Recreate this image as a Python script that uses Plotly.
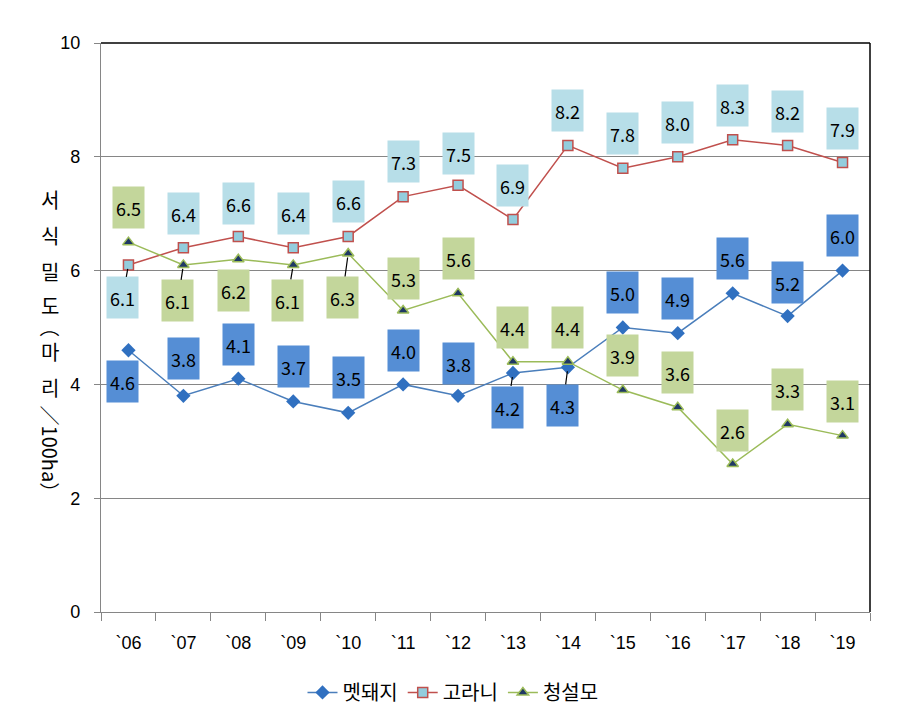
import plotly.graph_objects as go

years = ["`06", "`07", "`08", "`09", "`10", "`11", "`12", "`13", "`14", "`15", "`16", "`17", "`18", "`19"]
boar = [4.6, 3.8, 4.1, 3.7, 3.5, 4.0, 3.8, 4.2, 4.3, 5.0, 4.9, 5.6, 5.2, 6.0]
deer = [6.1, 6.4, 6.6, 6.4, 6.6, 7.3, 7.5, 6.9, 8.2, 7.8, 8.0, 8.3, 8.2, 7.9]
squirrel = [6.5, 6.1, 6.2, 6.1, 6.3, 5.3, 5.6, 4.4, 4.4, 3.9, 3.6, 2.6, 3.3, 3.1]
names = ["멧돼지", "고라니", "청설모"]
y_ticks = [0, 2, 4, 6, 8, 10]

# label placement (pixel offsets of label box from point, leader line flag)
boar_off = [(-6, 31, False), (0, -37, False), (0, -34, False), (0, -35, False), (0, -35, False),
            (0, -34, False), (0, -32, False), (-5, 34, True), (-5, 38, True), (0, -35, False),
            (0, -35, False), (0, -34.5, False), (0, -34, False), (0, -35, False)]
deer_off = [(-6, 33, True), (0, -34, False), (0, -33, False), (0, -34, False), (0, -35, False),
            (0, -35, False), (0, -32, False), (0, -33.5, False), (0, -35, False), (0, -34.5, False),
            (0, -34, False), (0, -34, False), (0, -34, False), (0, -34, False)]
sq_off = [(0, -35, False), (-5.5, 36, True), (-4.5, 31, False), (-6, 35.5, True), (-6, 44, True),
          (0, -32, False), (0, -34.5, False), (0, -34.5, False), (0, -34.5, False), (0, -34.5, False),
          (0, -34.5, False), (0, -34, False), (0, -35, False), (0, -34.5, False)]

NUMFONT = "Noto Sans CJK KR, sans-serif"
TICKFONT = "Liberation Sans, Arial, sans-serif"
KFONT = "Noto Sans CJK KR, sans-serif"

fig = go.Figure()
fig.add_trace(go.Scatter(x=years, y=boar, name=names[0], mode="lines+markers",
                         line=dict(color="#4A7EBB", width=1.5),
                         marker=dict(symbol="diamond", size=11, color="#3070C0",
                                     line=dict(color="#3070C0", width=0))))
fig.add_trace(go.Scatter(x=years, y=deer, name=names[1], mode="lines+markers",
                         line=dict(color="#C0504D", width=1.5),
                         marker=dict(symbol="square", size=10, color="#93CDDD",
                                     line=dict(color="#C0504D", width=1.5))))
fig.add_trace(go.Scatter(x=years, y=squirrel, name=names[2], mode="lines+markers",
                         line=dict(color="#9BBB59", width=1.5),
                         marker=dict(symbol="triangle-up", size=10, color="#1F3864",
                                     line=dict(color="#9BBB59", width=1.5))))

annotations = []
for vals, offs, bg in [(deer, deer_off, "#B7DEE8"), (squirrel, sq_off, "#C3D69B"), (boar, boar_off, "#558ED5")]:
    for xv, v, (dx, dy, lead) in zip(years, vals, offs):
        annotations.append(dict(
            x=xv, y=v, xref="x", yref="y", text=f"{v:.1f}",
            showarrow=True, ax=dx, ay=dy, arrowhead=0, arrowwidth=1.2,
            arrowcolor="black" if lead else "rgba(0,0,0,0)", standoff=4,
            bgcolor=bg, width=31, height=41, borderpad=0,
            font=dict(family=NUMFONT, size=18, color="black"),
            align="center", valign="middle"))

# vertical y-axis title
title_parts = [("서", 7.25, 0), ("식", 6.62, 0), ("밀", 5.99, 0), ("도", 5.39, 0),
               ("（", 5.0, 90), ("마", 4.58, 0), ("리", 3.94, 0), ("／100ha）", 2.78, 90)]
for t, yy, ang in title_parts:
    annotations.append(dict(x=-0.066, y=yy, xref="paper", yref="y", text=t, showarrow=False,
                            textangle=ang, xanchor="center", yanchor="middle",
                            font=dict(family=KFONT, size=20, color="black")))

fig.update_layout(
    width=890, height=710,
    margin=dict(l=93, r=28, t=35, b=106, autoexpand=False),
    paper_bgcolor="white", plot_bgcolor="white",
    showlegend=True,
    legend=dict(orientation="h", xref="container", x=0.5, xanchor="center",
                yref="container", y=0.036, yanchor="middle",
                font=dict(family=KFONT, size=20, color="black"), itemwidth=30,
                tracegroupgap=0),
    annotations=annotations,
    shapes=[
        dict(type="line", xref="paper", yref="paper", x0=0, x1=1, y0=1, y1=1,
             line=dict(color="black", width=1.5)),
        dict(type="line", xref="paper", yref="paper", x0=1, x1=1, y0=0, y1=1,
             line=dict(color="black", width=1.5)),
    ],
)
fig.update_xaxes(type="category", showgrid=False, showline=True, linecolor="#868686", linewidth=1.2,
                 ticks="outside", tickson="boundaries", ticklen=8, tickcolor="#868686",
                 tickfont=dict(family=TICKFONT, size=18, color="black"), ticklabelstandoff=14,
                 range=[-0.5, 13.5], automargin=False)
fig.update_yaxes(range=[0, 10], tickvals=y_ticks, showgrid=True, gridcolor="#868686", gridwidth=1.2,
                 showline=True, linecolor="#868686", linewidth=1.2, zeroline=False,
                 ticks="outside", ticklen=6, tickcolor="#868686",
                 tickfont=dict(family=TICKFONT, size=18, color="black"), ticklabelstandoff=10,
                 automargin=False)

fig.write_html("out.html")
